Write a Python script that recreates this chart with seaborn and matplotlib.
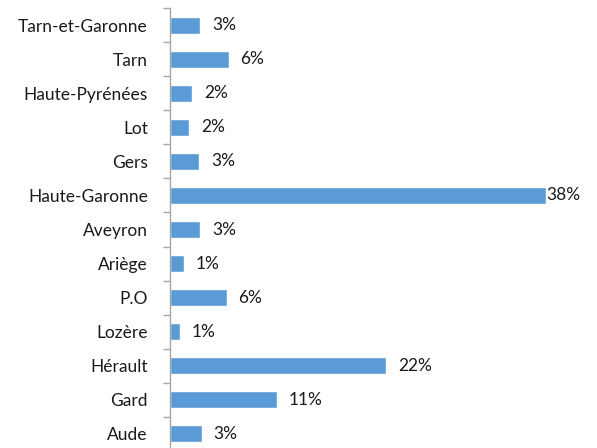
import matplotlib
matplotlib.use("Agg")
import matplotlib.pyplot as plt
import seaborn as sns
import pandas as pd
import numpy as np

departements = ["Tarn-et-Garonne", "Tarn", "Haute-Pyrénées", "Lot", "Gers",
                "Haute-Garonne", "Aveyron", "Ariège", "P.O", "Lozère",
                "Hérault", "Gard", "Aude"]
valeurs = [3.0, 5.9, 2.2, 1.9, 2.9, 38.0, 3.0, 1.4, 5.7, 1.0, 21.8, 10.8, 3.2]
etiquettes = ["3%", "6%", "2%", "2%", "3%", "38%", "3%", "1%", "6%", "1%",
              "22%", "11%", "3%"]

df = pd.DataFrame({"dep": departements, "val": valeurs})

sns.set_theme(style="white")
plt.rcParams["font.family"] = ["Lato", "DejaVu Sans"]

fig = plt.figure(figsize=(5.97, 4.48), dpi=100)
ax = fig.add_axes([0.285, -0.0067, 0.663, 0.9888])

sns.barplot(data=df, x="val", y="dep", orient="h", color="#5B9BD5",
            saturation=1, width=0.5, ax=ax)

ax.set_xlim(0, 40)
ax.set_ylim(len(departements) - 0.5, -0.5)
ax.set_xlabel("")
ax.set_ylabel("")
ax.set_xticks([])
for s in ["top", "right", "bottom"]:
    ax.spines[s].set_visible(False)
ax.spines["left"].set_color("#A6A6A6")
ax.spines["left"].set_linewidth(1)

ax.tick_params(axis="y", which="major", left=True, length=0, pad=16,
               labelsize=12.5, labelcolor="#1a1a1a")
ax.set_yticks(np.arange(len(departements) + 1) - 0.5, minor=True)
ax.tick_params(axis="y", which="minor", left=True, length=5, width=1,
               color="#A6A6A6", direction="out")

for i, (v, lab) in enumerate(zip(valeurs, etiquettes)):
    off = 0 if v > 35 else 12
    ax.annotate(lab, xy=(v, i), xytext=(off, 0), textcoords="offset pixels",
                va="center", ha="left", fontsize=12.5, color="#1a1a1a")

fig.savefig("out.png", dpi=100)
